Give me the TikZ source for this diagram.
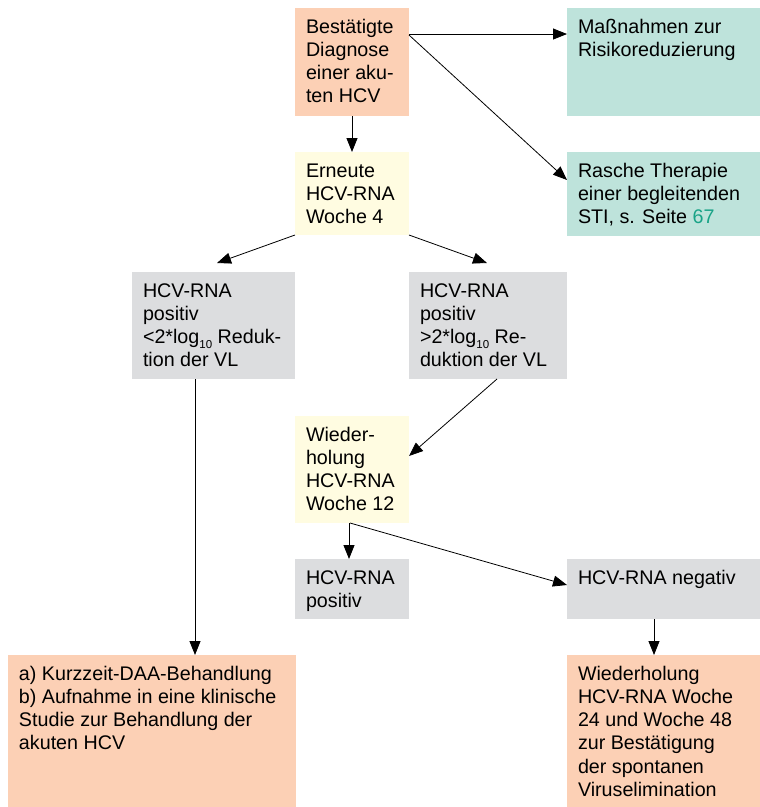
\documentclass[tikz,border=0pt]{standalone}
\usepackage{fontspec}
\setmainfont{Liberation Sans}
\usetikzlibrary{calc,arrows.meta}
\definecolor{cOr}{HTML}{FCD0B5}
\definecolor{cTe}{HTML}{BEE3DB}
\definecolor{cYe}{HTML}{FFFCE1}
\definecolor{cGr}{HTML}{DCDDDF}
\definecolor{cLink}{HTML}{19A387}
\newcommand\bt[3]{\parbox[t][#1pt][t]{#2pt}{\raggedright\rule{0pt}{25pt}#3}}
\newcommand\subten{\raisebox{-5pt}{\fontsize{11.5}{12}\selectfont 10}}
\begin{document}
\begin{tikzpicture}[x=1pt,y=-1pt,
  bx/.style={fill=#1, anchor=north west, inner xsep=11pt, inner ysep=0pt, outer sep=0pt,
    font=\fontsize{19.7}{23.3}\selectfont},
  arr/.style={draw=black, line width=0.8pt, -{Triangle[length=14pt,width=11pt]}}]
\useasboundingbox (0,0) rectangle (760,807);
\node[bx=cOr] (diag) at (295,8) {\bt{108}{92}{Bestätigte\\Diagnose\\einer aku-\\ten HCV}};
\node[bx=cTe] (mass) at (567,8) {\bt{108}{171}{Maßnahmen zur\\Risikoreduzierung}};
\node[bx=cTe] (sti) at (567,152) {\bt{84}{171}{Rasche Therapie\\einer begleitenden\\STI, s. Seite \textcolor{cLink}{67}}};
\node[bx=cYe] (woche4) at (295,152) {\bt{83}{92}{Erneute\\HCV-RNA\\Woche 4}};
\node[bx=cGr] (neg1) at (132,272) {\bt{107}{141}{HCV-RNA\\positiv\\<2*log\subten{} Reduk-\\tion der VL}};
\node[bx=cGr] (pos2) at (409,272) {\bt{107}{136}{HCV-RNA\\positiv\\>2*log\subten{} Re-\\duktion der VL}};
\node[bx=cYe] (w12) at (295,416) {\bt{107}{92}{Wieder-\\holung\\HCV-RNA\\Woche 12}};
\node[bx=cGr] (pos) at (295,559) {\bt{60}{92}{HCV-RNA\\positiv}};
\node[bx=cGr] (neg) at (567,559) {\bt{60}{171}{HCV-RNA negativ}};
\node[bx=cOr] (left) at (8,655) {\bt{152}{266}{a) Kurzzeit-DAA-Behandlung\\b) Aufnahme in eine klinische\\Studie zur Behandlung der\\akuten HCV}};
\node[bx=cOr] (right) at (567,655) {\bt{152}{171}{Wiederholung\\HCV-RNA Woche\\24 und Woche 48\\zur Bestätigung\\der spontanen\\Viruselimination}};
\draw[arr] ($(diag.north east)+(0,26)$) -- ($(mass.north west)+(0,26)$);
\draw[arr] ($(diag.north east)+(0,27)$) -- ($(sti.north west)+(0,28)$);
\draw[arr] (diag.south) -- (woche4.north);
\draw[arr] (woche4.south west) -- ($(neg1.north)+(3.5,-9)$);
\draw[arr] (woche4.south east) -- ($(pos2.north)+(-1,-9)$);
\draw[arr] ($(pos2.south)+(9,0)$) -- ($(w12.north east)+(0,40)$);
\draw[arr] ($(w12.south)+(-3,0)$) -- ($(pos.north)+(-3,0)$);
\draw[arr] ($(w12.south)+(-2,0)$) -- ($(neg.north west)+(0,26)$);
\draw[arr] ($(neg1.south)+(-18.5,0)$) coordinate (a1) -- (a1 |- left.north);
\draw[arr] ($(neg.south)+(-9.5,0)$) coordinate (a2) -- (a2 |- right.north);
\end{tikzpicture}
\end{document}
